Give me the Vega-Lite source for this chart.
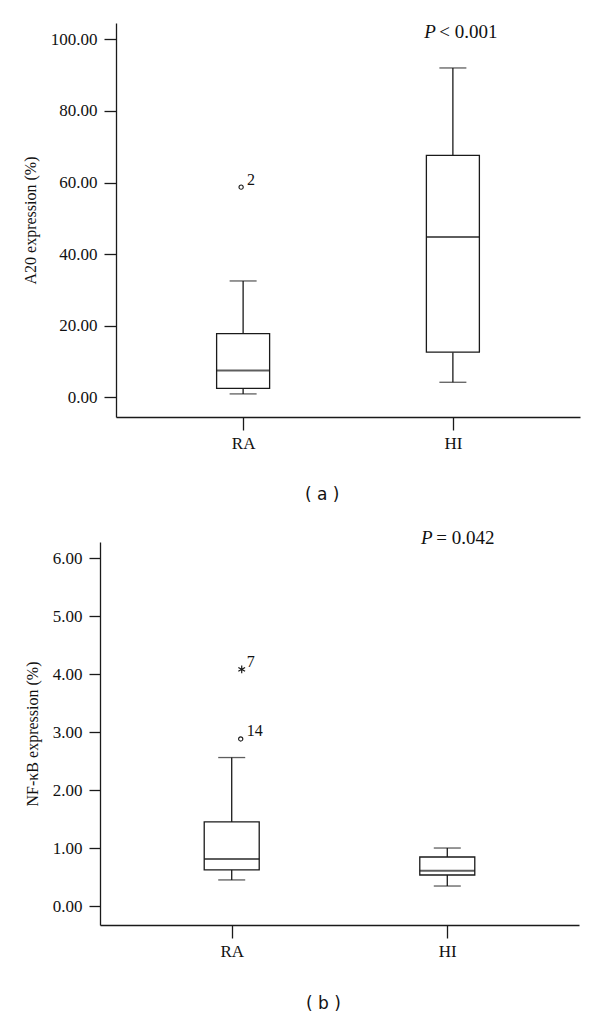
{
  "$schema": "https://vega.github.io/schema/vega-lite/v6.json",
  "background": "white",
  "padding": {"top": 22, "left": 22, "right": 5, "bottom": 5},
  "spacing": 27,
  "config": {
    "view": {"stroke": null},
    "font": "Liberation Serif",
    "axis": {"domainColor": "#1a1a1a", "domainWidth": 1.3, "tickColor": "#1a1a1a", "tickWidth": 1.3, "grid": false, "labelFont": "Liberation Serif", "labelFontSize": 17, "labelColor": "#111", "titleFont": "Liberation Serif", "titleFontSize": 16, "titleFontWeight": "normal", "titleColor": "#111"},
    "axisY": {"tickSize": 12, "labelPadding": 7, "titlePadding": 12, "labelFont": "Liberation Serif"},
    "axisX": {"tickSize": 13, "labelPadding": 5, "labelAngle": 0, "titleFont": "DejaVu Sans", "titleFontSize": 17, "titleBaseline": "middle", "titleAlign": "center"}
  },
  "vconcat": [
    {
      "hconcat": [
        {
          "width": 16,
          "height": 394,
          "data": {"values": []},
          "mark": {"type": "rule", "opacity": 0},
          "encoding": {}
        },
        {
          "width": 464,
          "height": 394,
          "data": {"values": [
            {"group": "RA", "lo": 0.95, "q1": 2.5, "med": 7.5, "q3": 17.8, "hi": 32.5},
            {"group": "HI", "lo": 4.2, "q1": 12.6, "med": 44.8, "q3": 67.6, "hi": 92.0}
          ]},
          "encoding": {
            "x": {"field": "group", "type": "nominal", "sort": ["RA", "HI"], "title": "( a )", "scale": {"type": "point", "padding": 0.606}, "axis": {"titleX": 205.7, "titleY": 77}}
          },
          "layer": [
            {"mark": {"type": "rule", "color": "#1a1a1a", "strokeWidth": 1.3}, "encoding": {"y": {"field": "lo", "type": "quantitative", "title": "A20 expression (%)", "scale": {"domain": [-5.5, 104.56], "nice": false, "zero": false}, "axis": {"values": [0, 20, 40, 60, 80, 100], "format": ".2f"}}, "y2": {"field": "q1"}}},
            {"mark": {"type": "rule", "color": "#1a1a1a", "strokeWidth": 1.3}, "encoding": {"y": {"field": "q3", "type": "quantitative", "title": "A20 expression (%)", "scale": {"domain": [-5.5, 104.56], "nice": false, "zero": false}, "axis": {"values": [0, 20, 40, 60, 80, 100], "format": ".2f"}}, "y2": {"field": "hi"}}},
            {"mark": {"type": "tick", "color": "#1a1a1a", "size": 27, "thickness": 1.3, "orient": "horizontal"}, "encoding": {"y": {"field": "lo", "type": "quantitative", "title": "A20 expression (%)", "scale": {"domain": [-5.5, 104.56], "nice": false, "zero": false}, "axis": {"values": [0, 20, 40, 60, 80, 100], "format": ".2f"}}}},
            {"mark": {"type": "tick", "color": "#1a1a1a", "size": 27, "thickness": 1.3, "orient": "horizontal"}, "encoding": {"y": {"field": "hi", "type": "quantitative", "title": "A20 expression (%)", "scale": {"domain": [-5.5, 104.56], "nice": false, "zero": false}, "axis": {"values": [0, 20, 40, 60, 80, 100], "format": ".2f"}}}},
            {"mark": {"type": "bar", "fill": "white", "stroke": "#1a1a1a", "strokeWidth": 1.3, "width": 53}, "encoding": {"y": {"field": "q1", "type": "quantitative", "title": "A20 expression (%)", "scale": {"domain": [-5.5, 104.56], "nice": false, "zero": false}, "axis": {"values": [0, 20, 40, 60, 80, 100], "format": ".2f"}}, "y2": {"field": "q3"}}},
            {"mark": {"type": "tick", "color": "#1a1a1a", "size": 53, "thickness": 2, "orient": "horizontal"}, "encoding": {"y": {"field": "med", "type": "quantitative", "title": "A20 expression (%)", "scale": {"domain": [-5.5, 104.56], "nice": false, "zero": false}, "axis": {"values": [0, 20, 40, 60, 80, 100], "format": ".2f"}}}},
            {
              "data": {"values": [{"group": "RA", "v": 58.7, "label": "2"}]},
              "layer": [
                {"mark": {"type": "point", "shape": "circle", "filled": false, "size": 18, "stroke": "#1a1a1a", "strokeWidth": 1.1, "xOffset": -2, "opacity": 1}, "encoding": {"y": {"field": "v", "type": "quantitative", "title": "A20 expression (%)", "scale": {"domain": [-5.5, 104.56], "nice": false, "zero": false}, "axis": {"values": [0, 20, 40, 60, 80, 100], "format": ".2f"}}}},
                {"mark": {"type": "text", "align": "left", "baseline": "alphabetic", "dx": 4, "dy": -2.5, "fontSize": 16, "color": "#111"}, "encoding": {"y": {"field": "v", "type": "quantitative", "title": "A20 expression (%)", "scale": {"domain": [-5.5, 104.56], "nice": false, "zero": false}, "axis": {"values": [0, 20, 40, 60, 80, 100], "format": ".2f"}}, "text": {"field": "label"}}}
              ]
            },
            {
              "data": {"values": [{"group": "HI", "v": 100.45, "label": "P"}]},
              "mark": {"type": "text", "align": "left", "baseline": "alphabetic", "dx": -28.7, "fontSize": 19, "fontStyle": "italic", "color": "#111"},
              "encoding": {"y": {"field": "v", "type": "quantitative", "title": "A20 expression (%)", "scale": {"domain": [-5.5, 104.56], "nice": false, "zero": false}, "axis": {"values": [0, 20, 40, 60, 80, 100], "format": ".2f"}}, "text": {"field": "label"}}
            },
            {
              "data": {"values": [{"group": "HI", "v": 100.45, "label": "< 0.001"}]},
              "mark": {"type": "text", "align": "left", "baseline": "alphabetic", "dx": -13.7, "fontSize": 19, "color": "#111"},
              "encoding": {"y": {"field": "v", "type": "quantitative", "title": "A20 expression (%)", "scale": {"domain": [-5.5, 104.56], "nice": false, "zero": false}, "axis": {"values": [0, 20, 40, 60, 80, 100], "format": ".2f"}}, "text": {"field": "label"}}
            }
          ]
        }
      ],
      "spacing": 0,
      "bounds": "flush"
    },
    {
      "width": 479,
      "height": 383,
      "data": {"values": [
        {"group": "RA", "lo": 0.45, "q1": 0.625, "med": 0.81, "q3": 1.45, "hi": 2.56},
        {"group": "HI", "lo": 0.345, "q1": 0.535, "med": 0.61, "q3": 0.845, "hi": 1.0}
      ]},
      "encoding": {
        "x": {"field": "group", "type": "nominal", "sort": ["RA", "HI"], "title": "( b )", "scale": {"type": "point", "padding": 0.611}, "axis": {"titleX": 223, "titleY": 78}}
      },
      "layer": [
        {"mark": {"type": "rule", "color": "#1a1a1a", "strokeWidth": 1.3}, "encoding": {"y": {"field": "lo", "type": "quantitative", "title": "NF-κB expression (%)", "scale": {"domain": [-0.327, 6.276], "nice": false, "zero": false}, "axis": {"values": [0, 1, 2, 3, 4, 5, 6], "format": ".2f", "tickSize": 11}}, "y2": {"field": "q1"}}},
        {"mark": {"type": "rule", "color": "#1a1a1a", "strokeWidth": 1.3}, "encoding": {"y": {"field": "q3", "type": "quantitative", "title": "NF-κB expression (%)", "scale": {"domain": [-0.327, 6.276], "nice": false, "zero": false}, "axis": {"values": [0, 1, 2, 3, 4, 5, 6], "format": ".2f", "tickSize": 11}}, "y2": {"field": "hi"}}},
        {"mark": {"type": "tick", "color": "#1a1a1a", "size": 27, "thickness": 1.3, "orient": "horizontal"}, "encoding": {"y": {"field": "lo", "type": "quantitative", "title": "NF-κB expression (%)", "scale": {"domain": [-0.327, 6.276], "nice": false, "zero": false}, "axis": {"values": [0, 1, 2, 3, 4, 5, 6], "format": ".2f", "tickSize": 11}}}},
        {"mark": {"type": "tick", "color": "#1a1a1a", "size": 27, "thickness": 1.3, "orient": "horizontal"}, "encoding": {"y": {"field": "hi", "type": "quantitative", "title": "NF-κB expression (%)", "scale": {"domain": [-0.327, 6.276], "nice": false, "zero": false}, "axis": {"values": [0, 1, 2, 3, 4, 5, 6], "format": ".2f", "tickSize": 11}}}},
        {"mark": {"type": "bar", "fill": "white", "stroke": "#1a1a1a", "strokeWidth": 1.3, "width": 55}, "encoding": {"y": {"field": "q1", "type": "quantitative", "title": "NF-κB expression (%)", "scale": {"domain": [-0.327, 6.276], "nice": false, "zero": false}, "axis": {"values": [0, 1, 2, 3, 4, 5, 6], "format": ".2f", "tickSize": 11}}, "y2": {"field": "q3"}}},
        {"mark": {"type": "tick", "color": "#1a1a1a", "size": 55, "thickness": 2, "orient": "horizontal"}, "encoding": {"y": {"field": "med", "type": "quantitative", "title": "NF-κB expression (%)", "scale": {"domain": [-0.327, 6.276], "nice": false, "zero": false}, "axis": {"values": [0, 1, 2, 3, 4, 5, 6], "format": ".2f", "tickSize": 11}}}},
        {
          "data": {"values": [{"group": "RA", "v": 2.88, "label": "14", "kind": "circle"}]},
          "mark": {"type": "point", "shape": "circle", "filled": false, "size": 18, "stroke": "#1a1a1a", "strokeWidth": 1.1, "xOffset": 9, "opacity": 1},
          "encoding": {"y": {"field": "v", "type": "quantitative", "title": "NF-κB expression (%)", "scale": {"domain": [-0.327, 6.276], "nice": false, "zero": false}, "axis": {"values": [0, 1, 2, 3, 4, 5, 6], "format": ".2f", "tickSize": 11}}}
        },
        {
          "data": {"values": [{"group": "RA", "v": 4.08, "label": "7", "kind": "star"}]},
          "mark": {"type": "point", "shape": "M0,-1L0,1M-0.87,-0.5L0.87,0.5M-0.87,0.5L0.87,-0.5", "filled": false, "size": 60, "stroke": "#1a1a1a", "strokeWidth": 1.2, "xOffset": 10, "opacity": 1},
          "encoding": {"y": {"field": "v", "type": "quantitative", "title": "NF-κB expression (%)", "scale": {"domain": [-0.327, 6.276], "nice": false, "zero": false}, "axis": {"values": [0, 1, 2, 3, 4, 5, 6], "format": ".2f", "tickSize": 11}}}
        },
        {
          "data": {"values": [{"group": "RA", "v": 2.88, "label": "14"}, {"group": "RA", "v": 4.08, "label": "7"}]},
          "mark": {"type": "text", "align": "left", "baseline": "alphabetic", "dx": 15, "dy": -2.7, "fontSize": 16, "color": "#111"},
          "encoding": {"y": {"field": "v", "type": "quantitative", "title": "NF-κB expression (%)", "scale": {"domain": [-0.327, 6.276], "nice": false, "zero": false}, "axis": {"values": [0, 1, 2, 3, 4, 5, 6], "format": ".2f", "tickSize": 11}}, "text": {"field": "label"}}
        },
        {
          "data": {"values": [{"group": "HI", "v": 6.236, "label": "P"}]},
          "mark": {"type": "text", "align": "left", "baseline": "alphabetic", "dx": -26.3, "fontSize": 19, "fontStyle": "italic", "color": "#111"},
          "encoding": {"y": {"field": "v", "type": "quantitative", "title": "NF-κB expression (%)", "scale": {"domain": [-0.327, 6.276], "nice": false, "zero": false}, "axis": {"values": [0, 1, 2, 3, 4, 5, 6], "format": ".2f", "tickSize": 11}}, "text": {"field": "label"}}
        },
        {
          "data": {"values": [{"group": "HI", "v": 6.236, "label": "= 0.042"}]},
          "mark": {"type": "text", "align": "left", "baseline": "alphabetic", "dx": -11, "fontSize": 19, "color": "#111"},
          "encoding": {"y": {"field": "v", "type": "quantitative", "title": "NF-κB expression (%)", "scale": {"domain": [-0.327, 6.276], "nice": false, "zero": false}, "axis": {"values": [0, 1, 2, 3, 4, 5, 6], "format": ".2f", "tickSize": 11}}, "text": {"field": "label"}}
        }
      ]
    }
  ]
}
